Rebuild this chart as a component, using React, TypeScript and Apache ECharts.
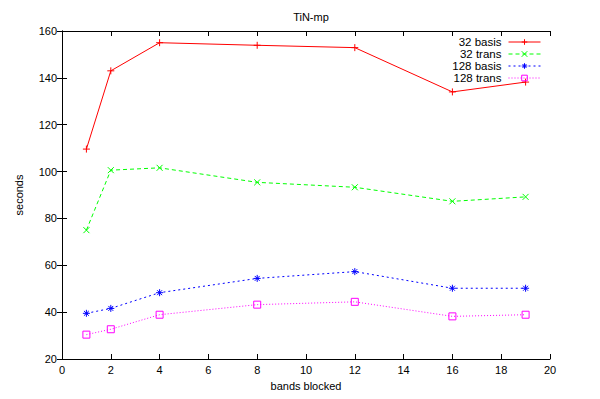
import React, { useEffect, useRef } from "react";
import * as echarts from "echarts";

const bands = [1, 2, 4, 8, 12, 16, 19];
const basis32 = [109.6, 143, 155, 153.9, 152.9, 134, 138.2];
const trans32 = [75, 100.6, 101.6, 95.4, 93.3, 87.3, 89.2];
const basis128 = [39.5, 41.6, 48.3, 54.4, 57.3, 50.2, 50.2];
const trans128 = [30.4, 32.7, 38.9, 43.2, 44.4, 38.2, 38.9];
const seriesNames = ["32 basis", "32 trans", "128 basis", "128 trans"];

const FONT = "'Liberation Sans', Arial, sans-serif";

export default function App() {
  const ref = useRef<HTMLDivElement>(null);
  useEffect(() => {
    const chart = echarts.init(ref.current!, undefined, { renderer: "svg" });
    const pts = (ys: number[]) => bands.map((x, i) => [x, ys[i]]);
    const plus = "path://M5,0V10M0,5H10";
    const cross = "path://M1,1L9,9M9,1L1,9";
    const star = "path://M5,0V10M0,5H10M1.5,1.5L8.5,8.5M8.5,1.5L1.5,8.5";
    const mk = (
      name: string,
      ys: number[],
      color: string,
      type: any,
      symbol: string,
      size: number
    ) => ({
      name,
      type: "line",
      data: pts(ys),
      symbol,
      symbolSize: size,
      showSymbol: true,
      lineStyle: { color, width: 1, type },
      itemStyle: {
        color: symbol === "rect" ? "rgba(0,0,0,0)" : color,
        borderColor: color,
        borderWidth: 1,
      },
      emphasis: { disabled: true },
      z: 3,
    });
    const axisCommon = {
      type: "value",
      axisLine: { show: true, lineStyle: { color: "#000", width: 1 } },
      axisTick: { show: true, inside: true, length: 5, lineStyle: { color: "#000" } },
      splitLine: { show: false },
    };
    chart.setOption({
      animation: false,
      backgroundColor: "#fff",
      textStyle: { fontFamily: FONT },
      title: {
        text: "TiN-mp",
        left: 306,
        textAlign: "center",
        top: 6,
        textStyle: { fontSize: 11, fontWeight: "normal", color: "#000", fontFamily: FONT },
      },
      legend: {
        data: seriesNames,
        orient: "vertical",
        right: 54,
        top: 31,
        align: "right",
        itemWidth: 32,
        itemHeight: 7,
        itemGap: 0,
        lineStyle: { width: 1 },
        itemStyle: { borderWidth: 1 },
        textStyle: { fontSize: 11.5, color: "#000", fontFamily: FONT, lineHeight: 11, padding: [0, 2, 0, 0] },
        selectedMode: false,
      },
      grid: { left: 62, right: 50, top: 31, bottom: 40 },
      xAxis: [
        {
          ...axisCommon,
          min: 0,
          max: 20,
          interval: 2,
          name: "bands blocked",
          nameLocation: "middle",
          nameGap: 21,
          nameTextStyle: { fontSize: 11, color: "#000", fontFamily: FONT },
          axisLabel: { fontSize: 11, color: "#000", margin: 5, fontFamily: FONT },
        },
        {
          ...axisCommon,
          position: "top",
          min: 0,
          max: 20,
          interval: 2,
          axisLabel: { show: false },
        },
      ],
      yAxis: [
        {
          ...axisCommon,
          min: 20,
          max: 160,
          interval: 20,
          name: "seconds",
          nameLocation: "middle",
          nameGap: 38,
          nameTextStyle: { fontSize: 11, color: "#000", fontFamily: FONT },
          axisLabel: { fontSize: 11, color: "#000", margin: 5, fontFamily: FONT },
        },
        {
          ...axisCommon,
          position: "right",
          min: 20,
          max: 160,
          interval: 20,
          axisLabel: { show: false },
        },
      ],
      series: [
        mk(seriesNames[0], basis32, "#ff0000", "solid", plus, 7),
        mk(seriesNames[1], trans32, "#00ff00", [4, 3], cross, 6),
        mk(seriesNames[2], basis128, "#0000ff", [2, 3], star, 7),
        mk(seriesNames[3], trans128, "#ff00ff", [1, 2], "rect", 7),
      ],
    });
    return () => chart.dispose();
  }, []);
  return <div ref={ref} style={{ width: 600, height: 399, position: "absolute", left: 0, top: 0 }} />;
}
